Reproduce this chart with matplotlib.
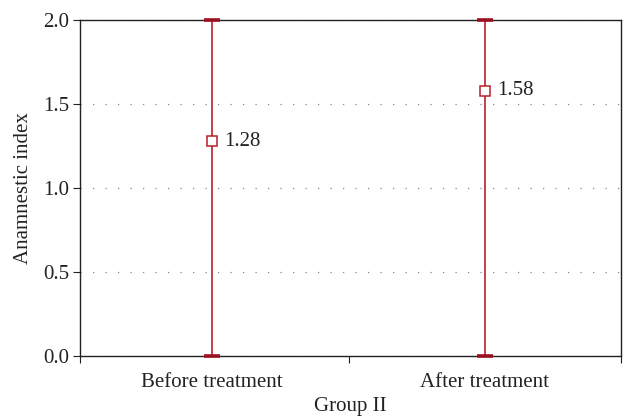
import numpy as np
import matplotlib.pyplot as plt

plt.rcParams['font.family'] = ['Liberation Serif', 'DejaVu Serif']

# values
groups = ['Before treatment', 'After treatment']
means = [1.28, 1.58]
lower = [0.0, 0.0]
upper = [2.0, 2.0]

fig = plt.figure(figsize=(6.26, 4.2), dpi=100)
ax = fig.add_axes([0.128, 0.152, 0.864, 0.8])

x = np.arange(len(groups))
means = np.array(means)
yerr = [means - np.array(lower), np.array(upper) - means]

line, caps, bars = ax.errorbar(x, means, yerr=yerr, fmt='s', color='#b8202a', ecolor='#b8202a',
                               elinewidth=1.2, capsize=5.8, capthick=2.5, markersize=7.5,
                               markerfacecolor='white', markeredgecolor='#b8202a',
                               markeredgewidth=1.1, zorder=3)
for c in caps:
    c.set_clip_on(False)
    c.set_markeredgecolor('#9a1020')
    c.set_markeredgewidth(2.6)
    c.set_zorder(4)
for xi, m in zip(x, means):
    ax.text(xi + 0.045, m, f'{m:.2f}', va='center', ha='left', fontsize=15, color='#222222')

ax.set_xlim(-0.485, 1.5)
ax.set_ylim(0, 2.0)
ax.set_yticks([0, 0.5, 1.0, 1.5, 2.0])
ax.set_yticklabels(['0.0', '0.5', '1.0', '1.5', '2.0'])
ax.set_xticks([-0.485, 0.5, 1.5])
ax.set_xticklabels([])
ax.set_xticks(x, minor=True)
ax.set_xticklabels(groups, minor=True)
ax.tick_params(axis='x', which='minor', length=0, labelsize=15, pad=12, colors='#222222')
ax.tick_params(axis='x', which='major', length=5, color='#222222')
ax.tick_params(axis='y', length=5, labelsize=15, pad=3, colors='#222222')

ax.yaxis.grid(True, linestyle=(0, (1, 9)), color='#888888', linewidth=0.9)
ax.set_axisbelow(True)
for s in ax.spines.values():
    s.set_color('#222222')
    s.set_linewidth(1.0)

ax.set_xlabel('Group II', fontsize=15, color='#222222', labelpad=4)
ax.set_ylabel('Anamnestic index', fontsize=15, color='#222222', labelpad=7)

fig.savefig('out.png', dpi=100)
plt.close(fig)
